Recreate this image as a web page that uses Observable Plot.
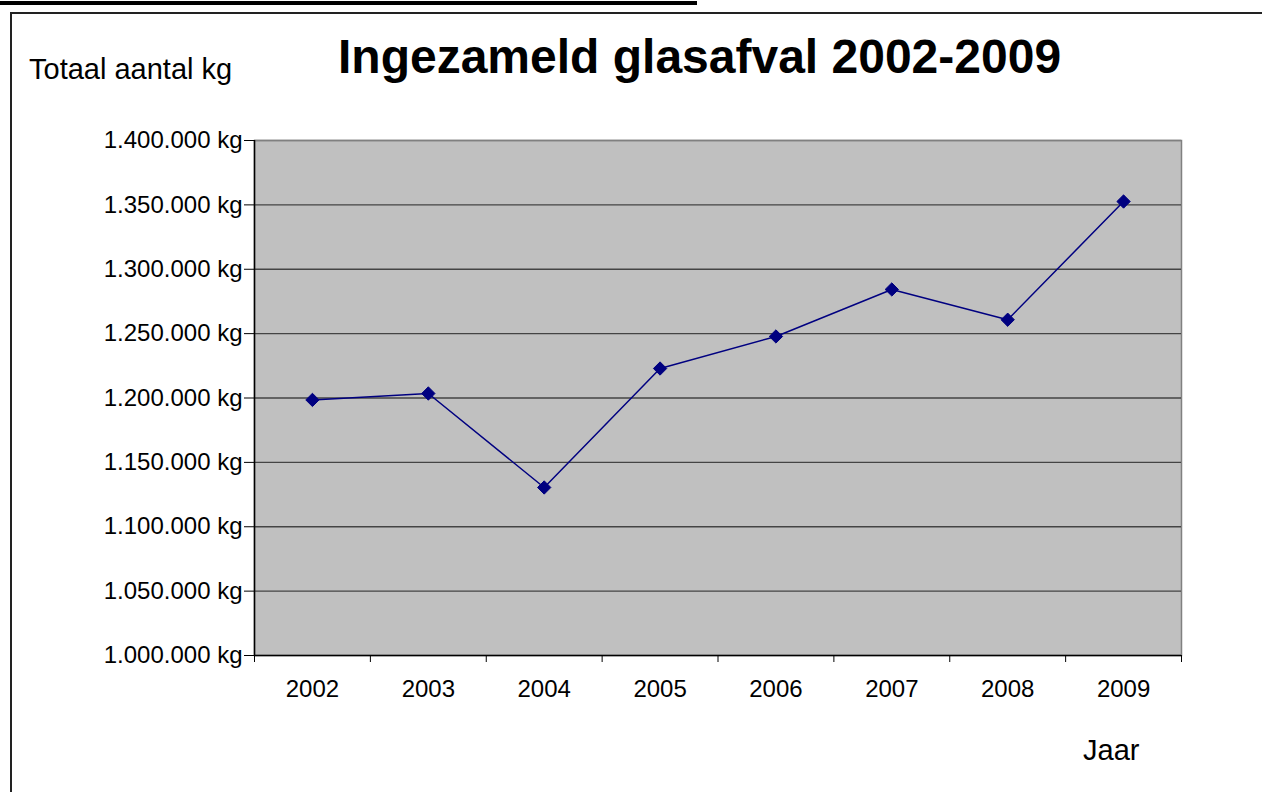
<!DOCTYPE html>
<html>
<head>
<meta charset="utf-8">
<script src="https://cdn.jsdelivr.net/npm/d3@7"></script>
<script src="https://cdn.jsdelivr.net/npm/@observablehq/plot@0.6"></script>
<style>
  html, body { margin: 0; padding: 0; background: #fff; overflow: hidden; }
  #wrap { position: relative; width: 1262px; height: 792px; overflow: hidden; font-family: Arial, "Liberation Sans", sans-serif; }
  #wrap svg { position: absolute; left: 0; top: 0; overflow: visible; }
  .abs { position: absolute; line-height: 1; white-space: nowrap; color: #000; }
  #topline { position: absolute; left: 0; top: 1px; width: 697px; height: 4px; background: #000; }
  #frame { position: absolute; left: 10px; top: 12px; width: 1400px; height: 900px; border: 2px solid #222; box-sizing: border-box; }
  #title { left: 338px; top: 33px; font-size: 48px; font-weight: bold; }
  #ylab { left: 29px; top: 55px; font-size: 29px; }
  #xlab { left: 1083px; top: 736px; font-size: 29px; }
</style>
</head>
<body>
<div id="wrap">
  <div id="topline"></div>
  <div id="frame"></div>
  <div id="title" class="abs">Ingezameld glasafval 2002-2009</div>
  <div id="ylab" class="abs">Totaal aantal kg</div>
  <div id="xlab" class="abs">Jaar</div>
</div>
<script>
const years = [2002, 2003, 2004, 2005, 2006, 2007, 2008, 2009];
const values = [1198500, 1203500, 1130500, 1222900, 1247800, 1284300, 1260800, 1352600];
const yTicks = [1000000, 1050000, 1100000, 1150000, 1200000, 1250000, 1300000, 1350000, 1400000];

const data = years.map((year, i) => ({year, value: values[i]}));
const bounds = years.map(y => y - 0.5).concat([years[years.length - 1] + 0.5]);
const nl = d3.formatLocale({decimal: ",", thousands: ".", grouping: [3], currency: ["€", ""]});
const fmt = nl.format(",");

const chart = Plot.plot({
  width: 1262,
  height: 792,
  marginLeft: 254,
  marginRight: 81,
  marginTop: 140,
  marginBottom: 137,
  style: {fontFamily: "Arial, 'Liberation Sans', sans-serif", fontSize: "24px", color: "#000", background: "transparent", overflow: "visible"},
  x: {type: "linear", domain: [bounds[0], bounds[bounds.length - 1]]},
  y: {domain: [yTicks[0], yTicks[yTicks.length - 1]]},
  marks: [
    Plot.frame({fill: "#c0c0c0", stroke: "#808080", strokeWidth: 1.5}),
    Plot.ruleY(yTicks.slice(1, -1), {stroke: "#444", strokeWidth: 1.3}),
    Plot.ruleY(yTicks.slice(-1), {stroke: "#808080", strokeWidth: 1.5}),
    Plot.axisY({ticks: yTicks, tickSize: 10, tickPadding: 2, tickFormat: d => fmt(d) + " kg", label: null, stroke: "#000"}),
    Plot.axisX({ticks: bounds, tickSize: 7, tickFormat: () => "", label: null, stroke: "#000"}),
    Plot.axisX({ticks: years, tickSize: 0, tickPadding: 24, tickFormat: d => String(d), label: null}),
    Plot.ruleX([bounds[0]], {stroke: "#000", strokeWidth: 1.5}),
    Plot.ruleY([yTicks[0]], {stroke: "#000", strokeWidth: 1.5}),
    Plot.line(data, {x: "year", y: "value", stroke: "#000080", strokeWidth: 1.5}),
    Plot.dot(data, {x: "year", y: "value", symbol: "diamond2", r: 6, fill: "#000080", stroke: "#000080", strokeWidth: 1})
  ]
});
document.getElementById("wrap").appendChild(chart);
</script>
</body>
</html>
